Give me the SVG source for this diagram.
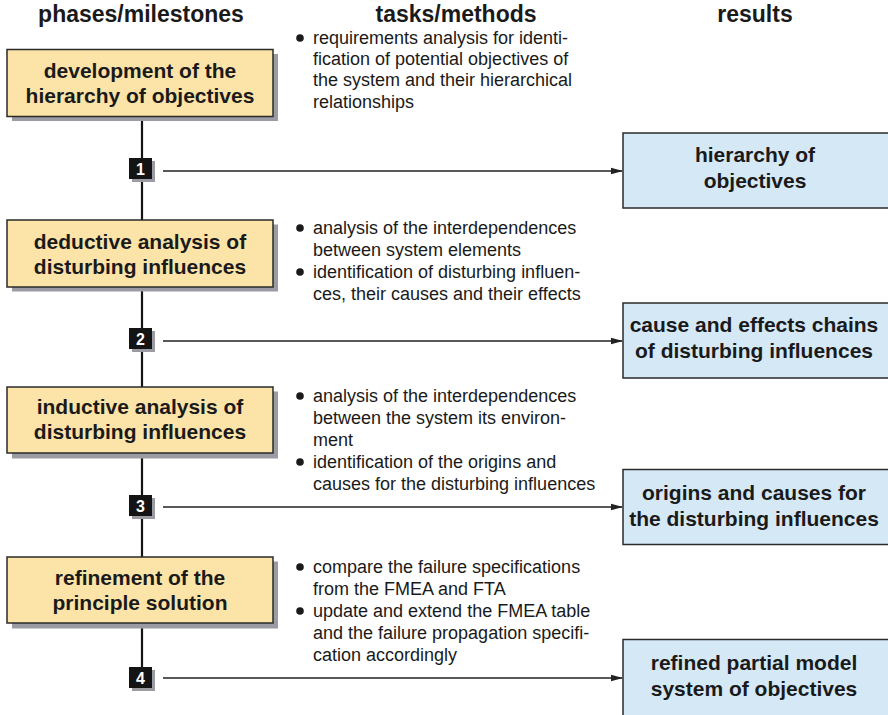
<svg xmlns="http://www.w3.org/2000/svg" width="888" height="715" viewBox="0 0 888 715">
  <style>
    .hdr { font-family: "Liberation Sans", Arial, sans-serif; font-weight: bold; font-size: 23px; fill: #1a1a1a; text-anchor: middle; }
    .phase rect.box { fill: #FCE4A8; stroke: #2a2a2a; stroke-width: 1.5; }
    .result rect.box { fill: #D5E8F6; stroke: #2a2a2a; stroke-width: 1.5; }
    .shadow { fill: #9b9ba3; }
    .lbl { font-family: "Liberation Sans", Arial, sans-serif; font-weight: bold; font-size: 21px; fill: #1a1a1a; text-anchor: middle; }
    .task { font-family: "Liberation Sans", Arial, sans-serif; font-size: 18px; fill: #1a1a1a; }
    .badge rect.sq { fill: #141414; }
    .badge text { font-family: "Liberation Sans", Arial, sans-serif; font-weight: bold; font-size: 16px; fill: #ffffff; text-anchor: middle; }
    .spine { stroke: #141414; stroke-width: 2.2; fill: none; }
    .link { stroke: #222; stroke-width: 1.4; fill: none; marker-end: url(#arrow); }
  </style>
  <defs>
    <marker id="arrow" markerWidth="12" markerHeight="8" refX="11" refY="4" orient="auto" markerUnits="userSpaceOnUse">
      <path d="M0,0.8 L12,4 L0,7.2 Z" fill="#222"/>
    </marker>
  </defs>

  <rect width="888" height="715" fill="#ffffff"/>

  <!-- column headers -->
  <text class="hdr" x="141" y="22">phases/milestones</text>
  <text class="hdr" x="456" y="22">tasks/methods</text>
  <text class="hdr" x="755" y="22">results</text>

  <!-- connectors: vertical spine and milestone arrows -->
  <g id="connectors">
    <line class="spine" x1="142" y1="116" x2="142" y2="680"/>
    <line class="link" x1="163" y1="171" x2="622" y2="171"/>
    <line class="link" x1="163" y1="341" x2="622" y2="341"/>
    <line class="link" x1="163" y1="507" x2="622" y2="507"/>
    <line class="link" x1="163" y1="678" x2="622" y2="678"/>
  </g>

  <!-- phases -->
  <g id="phase1" class="phase">
    <rect class="shadow" x="12" y="54" width="266" height="67"/>
    <rect class="box" x="7" y="49.5" width="266" height="67"/>
    <text class="lbl" x="140" y="78">development of the</text>
    <text class="lbl" x="140" y="103">hierarchy of objectives</text>
  </g>
  <g id="phase2" class="phase">
    <rect class="shadow" x="12" y="224.5" width="266" height="67"/>
    <rect class="box" x="7" y="220" width="266" height="67"/>
    <text class="lbl" x="140" y="249">deductive analysis of</text>
    <text class="lbl" x="140" y="274">disturbing influences</text>
  </g>
  <g id="phase3" class="phase">
    <rect class="shadow" x="12" y="391.5" width="266" height="67"/>
    <rect class="box" x="7" y="387" width="266" height="66"/>
    <text class="lbl" x="140" y="414">inductive analysis of</text>
    <text class="lbl" x="140" y="439">disturbing influences</text>
  </g>
  <g id="phase4" class="phase">
    <rect class="shadow" x="12" y="561.5" width="266" height="67"/>
    <rect class="box" x="7" y="557" width="266" height="66"/>
    <text class="lbl" x="140" y="585">refinement of the</text>
    <text class="lbl" x="140" y="610">principle solution</text>
  </g>

  <!-- milestones -->
  <g id="milestone1" class="badge">
    <rect class="shadow" x="132" y="161" width="23" height="21"/>
    <rect class="sq" x="129" y="158" width="23" height="21"/>
    <text x="140.5" y="174.5">1</text>
  </g>
  <g id="milestone2" class="badge">
    <rect class="shadow" x="132" y="331" width="23" height="21"/>
    <rect class="sq" x="129" y="328" width="23" height="21"/>
    <text x="140.5" y="344.5">2</text>
  </g>
  <g id="milestone3" class="badge">
    <rect class="shadow" x="132" y="498" width="23" height="21"/>
    <rect class="sq" x="129" y="495" width="23" height="21"/>
    <text x="140.5" y="511.5">3</text>
  </g>
  <g id="milestone4" class="badge">
    <rect class="shadow" x="132" y="670" width="23" height="21"/>
    <rect class="sq" x="129" y="667" width="23" height="21"/>
    <text x="140.5" y="683.5">4</text>
  </g>

  <!-- tasks/methods -->
  <g id="tasks1" class="task">
    <circle cx="300" cy="38" r="3.8" fill="#1a1a1a"/>
    <text x="313" y="44">requirements analysis for identi-</text>
    <text x="313" y="65">fication of potential objectives of</text>
    <text x="313" y="86">the system and their hierarchical</text>
    <text x="313" y="107.5">relationships</text>
  </g>
  <g id="tasks2" class="task">
    <circle cx="300" cy="228" r="3.8" fill="#1a1a1a"/>
    <text x="313" y="234">analysis of the interdependences</text>
    <text x="313" y="256">between system elements</text>
    <circle cx="300" cy="272" r="3.8" fill="#1a1a1a"/>
    <text x="313" y="278">identification of disturbing influen-</text>
    <text x="313" y="300">ces, their causes and their effects</text>
  </g>
  <g id="tasks3" class="task">
    <circle cx="300" cy="396" r="3.8" fill="#1a1a1a"/>
    <text x="313" y="402">analysis of the interdependences</text>
    <text x="313" y="424">between the system its environ-</text>
    <text x="313" y="446">ment</text>
    <circle cx="300" cy="462" r="3.8" fill="#1a1a1a"/>
    <text x="313" y="468">identification of the origins and</text>
    <text x="313" y="490">causes for the disturbing influences</text>
  </g>
  <g id="tasks4" class="task">
    <circle cx="300" cy="567" r="3.8" fill="#1a1a1a"/>
    <text x="313" y="573">compare the failure specifications</text>
    <text x="313" y="595">from the FMEA and FTA</text>
    <circle cx="300" cy="611" r="3.8" fill="#1a1a1a"/>
    <text x="313" y="617">update and extend the FMEA table</text>
    <text x="313" y="639">and the failure propagation specifi-</text>
    <text x="313" y="661">cation accordingly</text>
  </g>

  <!-- results -->
  <g id="result1" class="result">
    <rect class="box" x="623" y="133" width="270" height="75"/>
    <text class="lbl" x="755" y="162">hierarchy of</text>
    <text class="lbl" x="755" y="188">objectives</text>
  </g>
  <g id="result2" class="result">
    <rect class="box" x="623" y="303" width="270" height="75"/>
    <text class="lbl" x="754" y="332">cause and effects chains</text>
    <text class="lbl" x="754" y="358">of disturbing influences</text>
  </g>
  <g id="result3" class="result">
    <rect class="box" x="623" y="469.5" width="270" height="75"/>
    <text class="lbl" x="754" y="500">origins and causes for</text>
    <text class="lbl" x="754" y="526">the disturbing influences</text>
  </g>
  <g id="result4" class="result">
    <rect class="box" x="623" y="639.5" width="270" height="85"/>
    <text class="lbl" x="754" y="670">refined partial model</text>
    <text class="lbl" x="754" y="696">system of objectives</text>
  </g>
</svg>
